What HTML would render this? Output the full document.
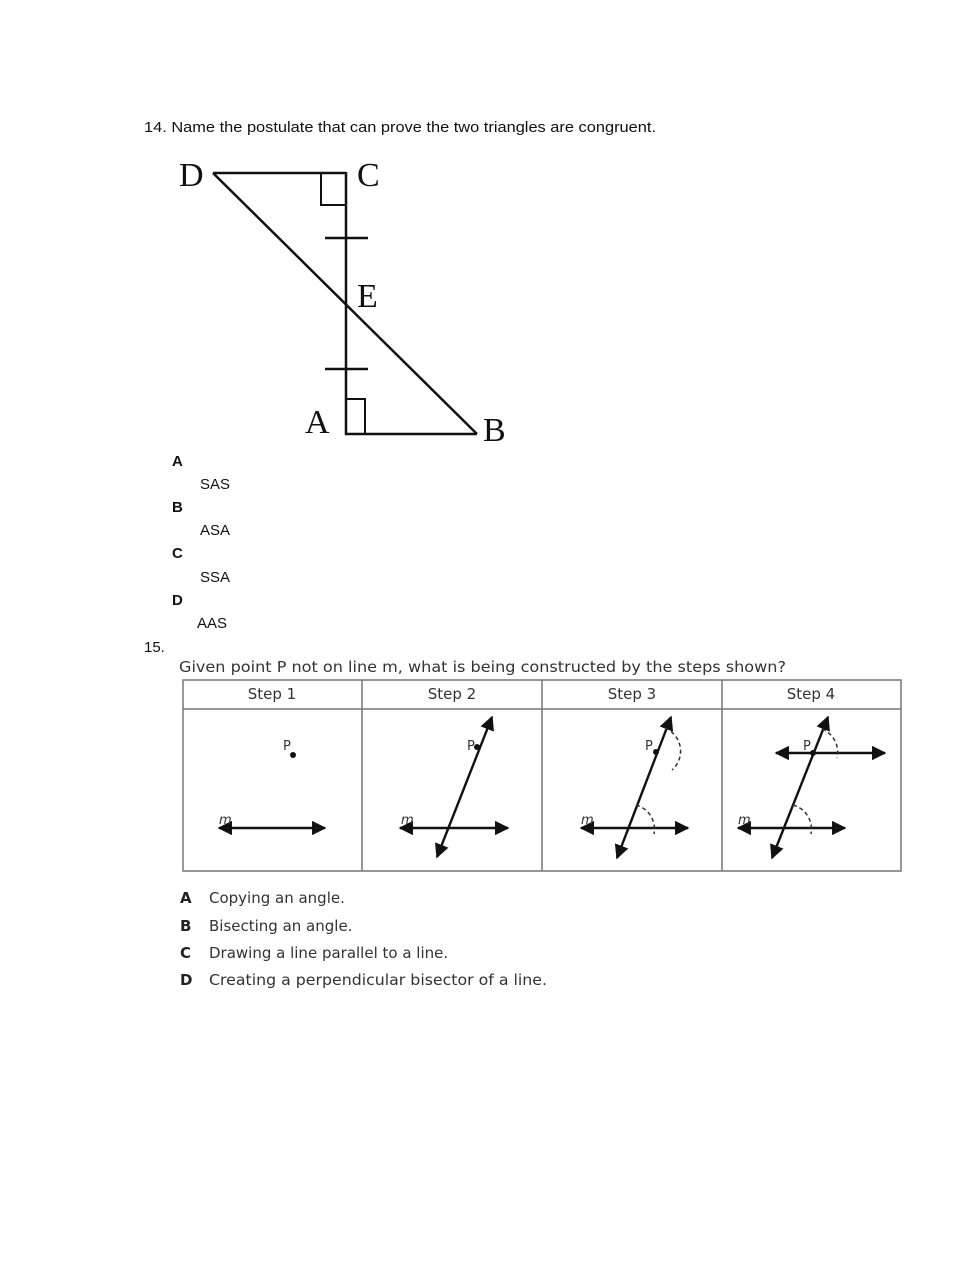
<!DOCTYPE html>
<html><head><meta charset="utf-8"><style>
html,body{margin:0;padding:0;background:#fff}
svg{display:block}
.c{font-family:"Liberation Sans",sans-serif;font-size:15px;fill:#111}
.v{font-family:"DejaVu Sans",sans-serif;font-size:15px;fill:#333}
.s{font-family:"Liberation Serif",serif;font-size:34px;fill:#111}
</style></head><body>
<svg width="979" height="1266" viewBox="0 0 979 1266" xmlns="http://www.w3.org/2000/svg">
<defs>
<marker id="ar" viewBox="0 0 10 10" refX="9" refY="5" markerWidth="6" markerHeight="6" orient="auto-start-reverse"><path d="M0,0 L10,5 L0,10 z" fill="#111"/></marker>
</defs>
<text class="c" x="144" y="132" textLength="512" lengthAdjust="spacingAndGlyphs">14.  Name the postulate that can prove the two triangles are congruent.</text>

<g stroke="#111" stroke-width="2.5" fill="none">
<line x1="213" y1="173" x2="346" y2="173"/>
<line x1="346" y1="172" x2="346" y2="435"/>
<line x1="345" y1="434" x2="477" y2="434"/>
<line x1="213" y1="173" x2="477" y2="434"/>
<rect x="321" y="173" width="25" height="32" stroke-width="2"/>
<rect x="346" y="399" width="19" height="35" stroke-width="2"/>
<line x1="325" y1="238" x2="368" y2="238"/>
<line x1="325" y1="369" x2="368" y2="369"/>
</g>
<text class="s" x="179" y="186">D</text>
<text class="s" x="357" y="186">C</text>
<text class="s" x="357" y="307">E</text>
<text class="s" x="305" y="433">A</text>
<text class="s" x="483" y="441">B</text>

<text class="c" x="172" y="466" font-weight="bold">A</text>
<text class="c" x="200" y="489">SAS</text>
<text class="c" x="172" y="512" font-weight="bold">B</text>
<text class="c" x="200" y="535">ASA</text>
<text class="c" x="172" y="558" font-weight="bold">C</text>
<text class="c" x="200" y="582">SSA</text>
<text class="c" x="172" y="605" font-weight="bold">D</text>
<text class="c" x="197" y="628">AAS</text>
<text class="c" x="144" y="652">15.</text>

<text class="v" x="179" y="672" textLength="607" lengthAdjust="spacingAndGlyphs">Given point P not on line m, what is being constructed by the steps shown?</text>
<g stroke="#777" stroke-width="1.5" fill="none">
<rect x="183" y="680" width="718" height="191"/>
<line x1="183" y1="709" x2="901" y2="709"/>
<line x1="362" y1="680" x2="362" y2="871"/>
<line x1="542" y1="680" x2="542" y2="871"/>
<line x1="722" y1="680" x2="722" y2="871"/>
</g>
<text class="v" x="272" y="699" text-anchor="middle">Step 1</text>
<text class="v" x="452" y="699" text-anchor="middle">Step 2</text>
<text class="v" x="632" y="699" text-anchor="middle">Step 3</text>
<text class="v" x="811" y="699" text-anchor="middle">Step 4</text>

<g stroke="#111" stroke-width="2.4" fill="none" marker-start="url(#ar)" marker-end="url(#ar)">
<line x1="219" y1="828" x2="325" y2="828"/>
<line x1="400" y1="828" x2="508" y2="828"/>
<line x1="437" y1="857" x2="492" y2="717"/>
<line x1="581" y1="828" x2="688" y2="828"/>
<line x1="617" y1="858" x2="671" y2="717"/>
<line x1="738" y1="828" x2="845" y2="828"/>
<line x1="776" y1="753" x2="885" y2="753"/>
<line x1="772" y1="858" x2="828" y2="717"/>
</g>
<g fill="#111">
<circle cx="293" cy="755" r="3"/><circle cx="477" cy="747" r="3"/><circle cx="656" cy="752" r="3"/><circle cx="813" cy="753" r="3"/>
</g>
<g font-family="DejaVu Sans,sans-serif" font-size="13" fill="#333">
<text x="283" y="750">P</text><text x="467" y="750">P</text><text x="645" y="750">P</text><text x="803" y="750">P</text>
<text x="219" y="824" font-style="italic">m</text><text x="401" y="824" font-style="italic">m</text><text x="581" y="824" font-style="italic">m</text><text x="738" y="824" font-style="italic">m</text>
</g>
<g stroke="#333" stroke-width="1.5" fill="none" stroke-dasharray="4,3">
<path d="M636,805 A25,25 0 0 1 654,834"/>
<path d="M665,728 A25,25 0 0 1 672,770"/>
<path d="M793,805 A25,25 0 0 1 811,834"/>
<path d="M822,729 A25,25 0 0 1 837,758"/>
</g>

<g class="v">
<text x="180" y="903" font-weight="bold" fill="#222">A</text><text class="v" x="209" y="903">Copying an angle.</text>
<text x="180" y="931" font-weight="bold" fill="#222">B</text><text class="v" x="209" y="931">Bisecting an angle.</text>
<text x="180" y="958" font-weight="bold" fill="#222">C</text><text class="v" x="209" y="958">Drawing a line parallel to a line.</text>
<text x="180" y="985" font-weight="bold" fill="#222">D</text><text class="v" x="209" y="985" textLength="338" lengthAdjust="spacingAndGlyphs">Creating a perpendicular bisector of a line.</text>
</g>
</svg>
</body></html>
